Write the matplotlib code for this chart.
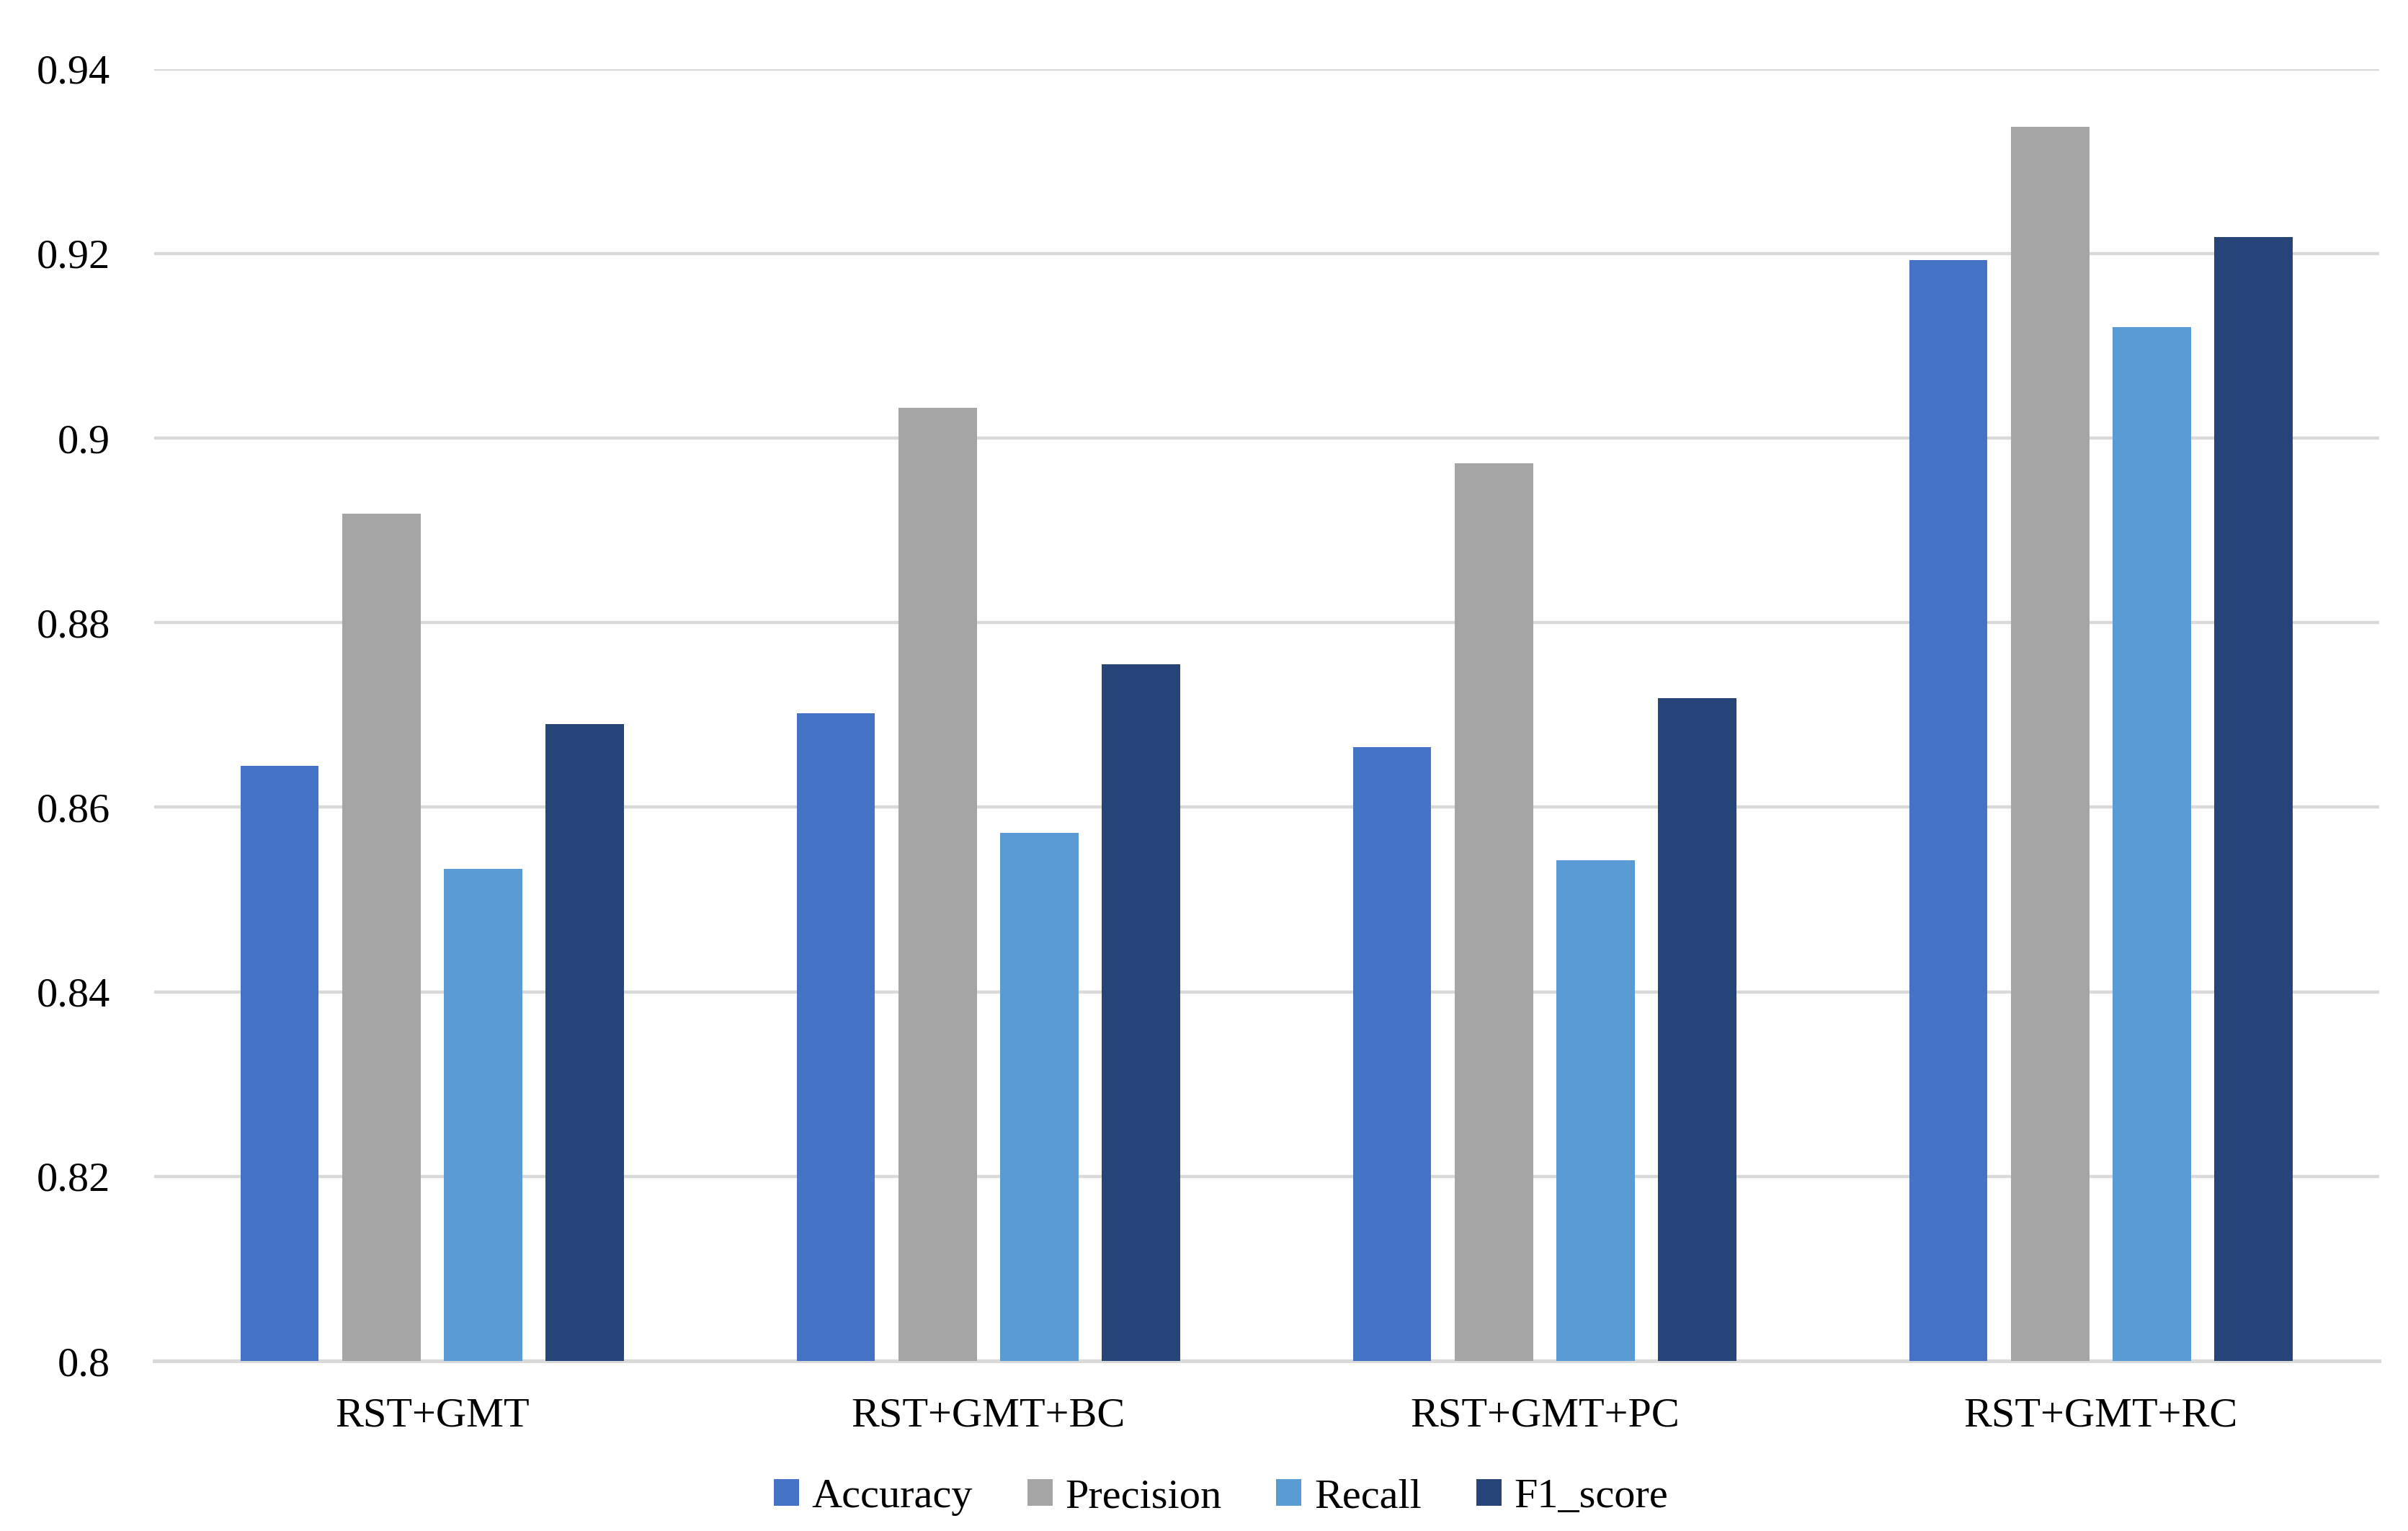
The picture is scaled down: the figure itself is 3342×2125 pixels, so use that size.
import numpy as np
import matplotlib.pyplot as plt

categories = ["RST+GMT", "RST+GMT+BC", "RST+GMT+PC", "RST+GMT+RC"]
metrics = ["Accuracy", "Precision", "Recall", "F1_score"]
accuracy = [0.8645, 0.8702, 0.8665, 0.9193]
precision = [0.8918, 0.9033, 0.8973, 0.9337]
recall = [0.8533, 0.8572, 0.8543, 0.9120]
f1_score = [0.8690, 0.8755, 0.8718, 0.9218]
yticks = [0.8, 0.82, 0.84, 0.86, 0.88, 0.9, 0.92, 0.94]
ytick_labels = ["0.8", "0.82", "0.84", "0.86", "0.88", "0.9", "0.92", "0.94"]

colors = ["#4472c4", "#a5a5a5", "#5b9bd5", "#264478"]
series = [accuracy, precision, recall, f1_score]

plt.rcParams["font.family"] = ["Liberation Serif", "DejaVu Serif"]

fig = plt.figure(figsize=(16.71, 10.625), dpi=200)
ax = fig.add_axes([0.064, 0.111, 0.924, 0.844])

x = np.arange(len(categories))
step = 0.183
width = 0.141
for i, (vals, name, c) in enumerate(zip(series, metrics, colors)):
    ax.bar(x + (i - 1.5) * step, vals, width, color=c, label=name, zorder=3)

ax.set_xlim(-0.5, len(categories) - 0.5)
ax.set_ylim(0.8, 0.94)
ax.set_yticks(yticks)
ax.set_yticklabels(ytick_labels)
ax.set_xticks(x)
ax.set_xticklabels(categories)
ax.grid(axis="y", color="#d9d9d9", linewidth=1.6, zorder=0)
for s in ["top", "right", "left"]:
    ax.spines[s].set_visible(False)
ax.spines["bottom"].set_color("#d9d9d9")
ax.spines["bottom"].set_linewidth(1.8)
ax.tick_params(axis="both", length=0, labelsize=21, colors="black")
ax.tick_params(axis="y", pad=22)
ax.tick_params(axis="x", pad=18)

ax.legend(loc="center", bbox_to_anchor=(0.507, 0.022), bbox_transform=fig.transFigure,
          ncol=4, frameon=False, fontsize=21, handlelength=0.6, handleheight=0.6,
          handletextpad=0.3, columnspacing=1.3)

fig.savefig("out.png", dpi=200, facecolor="white")
